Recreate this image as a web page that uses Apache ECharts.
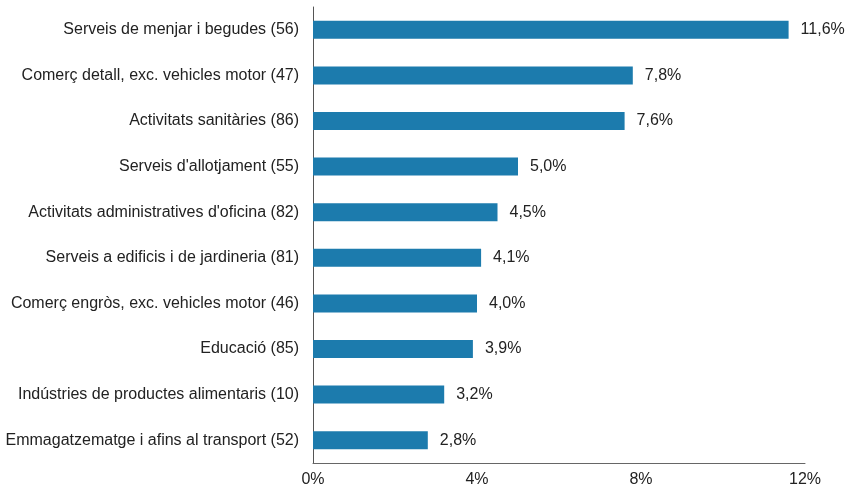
<!DOCTYPE html>
<html><head><meta charset="utf-8">
<script src="https://cdn.jsdelivr.net/npm/echarts@6/dist/echarts.min.js"></script>
<style>html,body{margin:0;padding:0;background:#fff}#c{width:848px;height:490px}</style>
</head><body><div id="c"></div>
<script>
const categories = [
  "Serveis de menjar i begudes (56)",
  "Comerç detall, exc. vehicles motor (47)",
  "Activitats sanitàries (86)",
  "Serveis d'allotjament (55)",
  "Activitats administratives d'oficina (82)",
  "Serveis a edificis i de jardineria (81)",
  "Comerç engròs, exc. vehicles motor (46)",
  "Educació (85)",
  "Indústries de productes alimentaris (10)",
  "Emmagatzematge i afins al transport (52)"
];
const values = [11.6, 7.8, 7.6, 5.0, 4.5, 4.1, 4.0, 3.9, 3.2, 2.8];
const xTicks = [0, 4, 8, 12];

const chart = echarts.init(document.getElementById('c'), null, {renderer: 'canvas'});
const font = 'Liberation Sans, Arial, sans-serif';
chart.setOption({
  animation: false,
  grid: {left: 313, right: 43, top: 7, bottom: 27},
  xAxis: {
    type: 'value', min: xTicks[0], max: xTicks[xTicks.length-1], interval: 4,
    axisLine: {show: true, lineStyle: {color: '#666', width: 1}},
    axisTick: {show: false},
    splitLine: {show: false},
    axisLabel: {color: '#222', fontSize: 16, fontFamily: font, margin: 9, formatter: v => v + '%'}
  },
  yAxis: {
    type: 'category', data: categories, inverse: true,
    axisLine: {show: true, lineStyle: {color: '#555', width: 1}},
    axisTick: {show: false},
    axisLabel: {color: '#222', fontSize: 16, fontFamily: font, margin: 14}
  },
  series: [{
    type: 'bar', data: values, barWidth: 18,
    itemStyle: {color: '#1c7bad'},
    label: {show: true, position: 'right', distance: 12, color: '#222', fontSize: 16, fontFamily: font,
      formatter: p => p.value.toFixed(1).replace('.', ',') + '%'}
  }]
});
</script></body></html>
